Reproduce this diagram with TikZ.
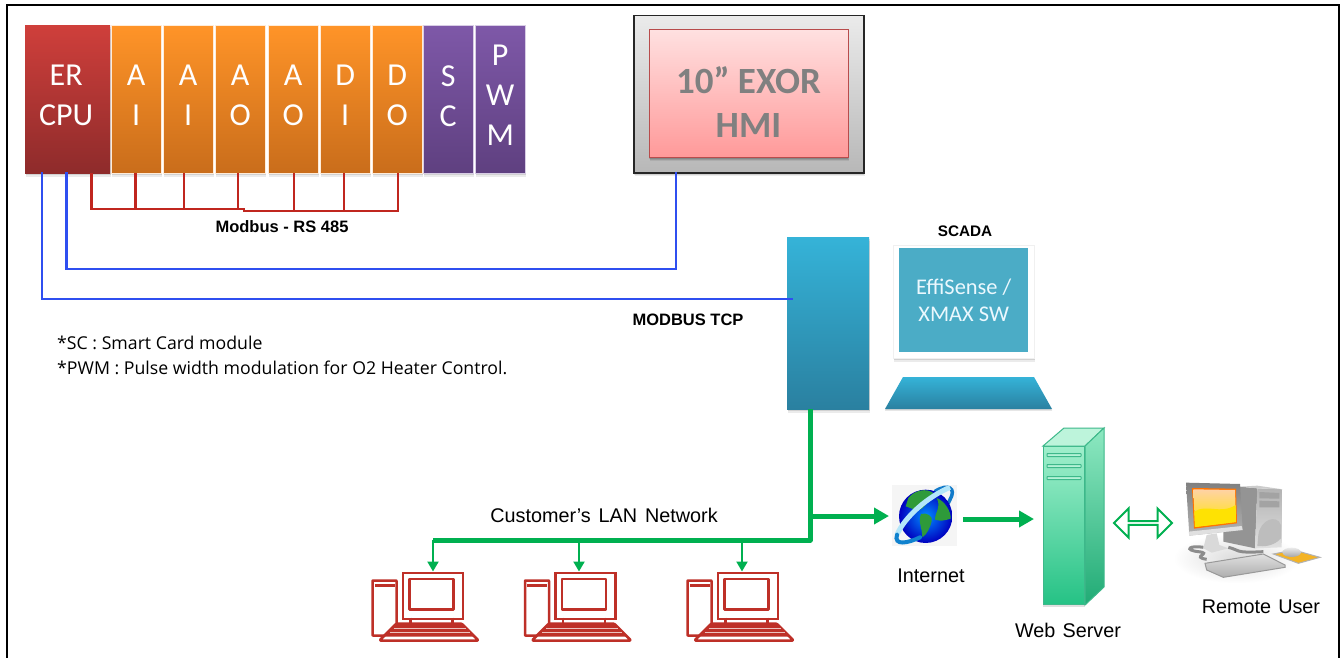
\documentclass[tikz,border=0pt]{standalone}
\usepackage{fontspec}
\setmainfont{Liberation Sans}
\newfontfamily\calib{Carlito}
\newfontfamily\notef{Open Sans}
\usetikzlibrary{arrows.meta,shapes.arrows,shadows,calc}
\definecolor{busgreen}{HTML}{00B050}
\definecolor{redpc}{HTML}{BE3028}
\definecolor{linkblue}{HTML}{2F4FF0}
\definecolor{linkred}{HTML}{C0261F}
\definecolor{scT}{HTML}{35B3D8}
\definecolor{scB}{HTML}{2A80A0}
\definecolor{scI}{HTML}{4BACC6}
\definecolor{svE}{HTML}{3DB88A}
\definecolor{svT}{HTML}{A0EFCC}
\definecolor{svB}{HTML}{25C285}
\definecolor{cpuT}{HTML}{CF3F3B}
\definecolor{cpuB}{HTML}{8E2B2B}
\definecolor{ioT}{HTML}{FF9428}
\definecolor{ioB}{HTML}{C96D1B}
\definecolor{purT}{HTML}{7E58A8}
\definecolor{purB}{HTML}{5F4080}
\definecolor{landgreen}{HTML}{2E9A3A}
\definecolor{padyellow}{HTML}{F4B324}
\colorlet{purmid}{purT}
\newcommand{\px}[1]{\fontsize{#1}{#1}\selectfont}
\newcommand{\lift}{\\[-25pt]\mbox{}}
\tikzset{
  softshadow/.style={
    drop shadow={shadow xshift=0pt,shadow yshift=-1pt,opacity=.13,fill=black},
    drop shadow={shadow xshift=.5pt,shadow yshift=-2pt,opacity=.11,fill=black},
    drop shadow={shadow xshift=1pt,shadow yshift=-3.5pt,opacity=.08,fill=black}},
  modbase/.style={inner sep=0pt,minimum height=148pt,anchor=north west,text=white,align=center,
     font=\calib\px{32},softshadow},
  cpumod/.style={modbase,top color=cpuT,bottom color=cpuB,minimum width=85pt},
  iomod/.style={modbase,top color=ioT,bottom color=ioB,minimum width=50pt,draw=white!85!orange,line width=.4pt},
  purmod/.style={modbase,top color=purT,bottom color=purB,minimum width=50pt,draw=white!70!purmid,line width=.4pt},
  redlink/.style={draw=linkred,line width=2.5pt},
  bluelink/.style={draw=linkblue,line width=2.3pt},
  busline/.style={draw=busgreen,line width=5pt,line join=round},
  droparrow/.style={draw=busgreen,line width=2.2pt,-{Triangle[length=10pt,width=11pt]}},
  mainarrow/.style={draw=busgreen,line width=5pt,-{Triangle[length=15pt,width=16pt]}},
  lab/.style={inner sep=0pt,text=black,font=\px{19.8}},
  boldlab/.style={inner sep=0pt,text=black,font=\bfseries\px{16.5}},
  redline/.style={draw=redpc,line width=2.5pt,line join=round},
  pics/redcomputer/.style={code={
    \draw[redline,fill=white,rounded corners=.5pt] (-29,9) rectangle (-5,64);
    \fill[redpc] (-27,12.5) rectangle (-7,15.5);
    \node[draw=redpc,line width=2.5pt,fill=white,inner sep=0pt,minimum width=60pt,minimum height=46pt,anchor=north west] (-mon) at (0,0) {};
    \draw[redline] (8,7.5) rectangle (52,38);
    \draw[redline] (9,46) -- (9,53) (51,46) -- (51,53);
    \draw[redline,fill=white,rounded corners=1pt] (-4,69) -- (-22,69) -- (-5,52) -- (60,52) -- (77,69) -- cycle;
    \fill[redpc] (-4,52) -- (59.5,52) -- (72,65) -- (-17,65) -- cycle;
    \draw[white!70!redpc,line width=.5pt] (-8,57) -- (64,57) (-12,61) -- (68,61);
  }}
}
\begin{document}
\begin{tikzpicture}[x=1pt,y=-1pt]
\useasboundingbox (0,0) rectangle (1341,658);
\fill[white] (0,0) rectangle (1341,658);
\draw[black,line width=2.4pt] (7,658) -- (7,5) -- (1339,5) -- (1339,658);

% PLC modules
\node[cpumod] (cpu) at (25,25) {ER\kern3pt\\[8pt]CPU\kern3pt\lift};
\node[iomod] (m1) at (111,25) {A\\[8pt]I\lift};
\node[iomod] (m2) at (163,25) {A\\[8pt]I\lift};
\node[iomod] (m3) at (215,25) {A\\[8pt]O\lift};
\node[iomod] (m4) at (268,25) {A\\[8pt]O\lift};
\node[iomod] (m5) at (320,25) {D\\[8pt]I\lift};
\node[iomod] (m6) at (372,25) {D\\[8pt]O\lift};
\node[purmod] (m7) at (423,25) {S\\[8pt]C\lift};
\node[purmod] (m8) at (475,25) {P\\[8pt]W\\[8pt]M\lift};

% Modbus RS485
\coordinate (r0) at (91.5,173);
\draw[redlink] (r0) -- (91.5,209) -- (244,209) -- (244,211) -- (398,211) -- (398,173);
\foreach \xx/\mm in {135.7/m1,184/m2,238/m3,294/m4,344/m5}{
  \draw[redlink] (\mm.south -| \xx,0) -- (\xx,210);
}
\node[boldlab] (modbus) at (282,227) {Modbus - RS 485};

% HMI
\node[draw=black!85,line width=1.5pt,top color=black!8,bottom color=black!28,inner sep=0pt,
  minimum width=230pt,minimum height=157pt,anchor=north west,softshadow] (hmi) at (633,15) {};
\node[draw=red!60!black!70,line width=1pt,top color=red!12,bottom color=red!40,inner sep=0pt,
  minimum width=199pt,minimum height=128pt,anchor=north west,softshadow,text=black!50,align=center,
  font=\calib\bfseries\px{37}] (hmiscreen) at (648.5,29) {\rule{0pt}{44pt}10” EXOR\\[7pt]HMI};

% SCADA
\node[top color=scT,bottom color=scB,inner sep=0pt,minimum width=82pt,minimum height=172pt,anchor=north west,softshadow] (tower) at (787,237) {};
\node[boldlab,font=\bfseries\px{15.3}] (scada) at (965,231) {SCADA};
\node[fill=white,draw=black!6,line width=.6pt,inner sep=0pt,minimum width=141pt,minimum height=113pt,anchor=north west,softshadow] (scmon) at (893,245) {};
\node[fill=scI,inner sep=0pt,minimum width=129pt,minimum height=104pt,anchor=north west,text=white!92!cyan,
  align=center,font=\calib\px{22.4}] (scscreen) at (899,248) {EffiSense /\\[4pt]XMAX SW};
\path[top color=scT,bottom color=scB,drop shadow={shadow xshift=0pt,shadow yshift=-1.5pt,opacity=.15,fill=black}] (903,377) -- (1034,377) -- (1052,409) -- (885,409) -- cycle;

% blue links
\coordinate (cpuA) at (42,172);
\coordinate (cpuB) at (66.5,172);
\coordinate (hmiA) at (675.7,172);
\coordinate (towerA) at (792.7,299);
\draw[bluelink] (cpuB) |- (hmiA |- 0,269) -- (hmiA);
\draw[bluelink] (cpuA) |- (towerA);
\node[boldlab] (mtcp) at (688,320) {MODBUS TCP};

% notes
\node[inner sep=0pt,anchor=west,font=\notef\px{17.7},text=black] (n1) at (57,343) {*SC : Smart Card module};
\node[inner sep=0pt,anchor=west,font=\notef\px{17.7},text=black] (n2) at (57,368) {*PWM : Pulse width modulation for O2 Heater Control.};

% red computers
\pic (p1) at (401.5,571.5) {redcomputer};
\pic (p2) at (554,571.5) {redcomputer};
\pic (p3) at (716.5,571.5) {redcomputer};

% LAN bus
\coordinate (towerB) at (810,409);
\coordinate (busL) at (433,540);
\coordinate (b2) at (579,540);
\coordinate (b3) at (742,540);
\coordinate (branch) at (810,516);
\draw[droparrow] (busL) -- (busL |- p1-mon.north);
\draw[droparrow] (b2) -- (b2 |- p2-mon.north);
\draw[droparrow] (b3) -- (b3 |- p3-mon.north);
\draw[busline] (towerB) |- (busL);
\node[lab] (lan) at (604,515) {Customer’s\hspace{.12em} LAN\hspace{.12em} Network};

% Internet globe
\node[fill=black!4,inner sep=0pt,minimum width=65pt,minimum height=61pt,anchor=north west] (globe) at (892,485) {};
\begin{scope}[shift={(885,478)},x=.3333pt,y=-.3333pt]
  \draw[line width=3.5pt,cyan!60!blue,line cap=round] (150,40) .. controls (190,15) and (215,30) .. (195,65) .. controls (190,75) and (185,85) .. (180,90);
  \shade[inner color=cyan!55!blue,outer color=blue!75!black] (122,115) circle (80);
  \fill[landgreen] (70,60) .. controls (90,35) and (125,30) .. (145,45) .. controls (125,60) and (130,80) .. (115,88) .. controls (100,105) and (80,90) .. (62,85) -- cycle;
  \fill[landgreen] (108,108) .. controls (125,102) and (145,115) .. (140,130) .. controls (135,150) and (125,170) .. (112,178) .. controls (112,150) and (98,130) .. (108,108) -- cycle;
  \fill[landgreen] (155,60) .. controls (180,70) and (198,100) .. (197,122) .. controls (178,128) and (165,130) .. (150,125) .. controls (150,100) and (170,90) .. (155,60) -- cycle;
  \draw[line width=5pt,cyan!30!white] (36,170) .. controls (60,115) and (130,55) .. (195,28);
  \draw[line width=4pt,cyan!65!blue,line cap=round] (36,170) .. controls (25,205) and (70,195) .. (105,178);
\end{scope}
\node[lab] (inetlab) at (931,576) {Internet};
\draw[mainarrow,shorten >=3pt] (branch) -- (globe.west |- branch);
\coordinate (gr) at (963,519);

% Web server
\path[fill=black!35,opacity=.35] (1043,600) rectangle (1085,607);
\node[draw=svE,line width=1pt,top color=svT,bottom color=svB,inner sep=0pt,minimum width=41pt,minimum height=158pt,anchor=north west] (server) at (1043,446) {};
\draw[draw=svE,line width=1pt,fill=svT!70!white] (server.north west) -- (1064,428) -- (1104,428) -- (server.north east) -- cycle;
\path[draw=svE,line width=1pt,top color=svT!85!svB,bottom color=svB!88!black] (server.north east) -- (1104,428) -- (1104,587) -- (server.south east) -- cycle;
\foreach \yy in {455,466,478}{
  \draw[draw=svE,line width=1pt,fill=svT!80!white,rounded corners=.5pt] (1047,\yy-1.5) rectangle (1081,\yy+1.5);
}
\node[lab] (weblab) at (1068,630) {Web\hspace{.08em} Server};
\draw[mainarrow,shorten >=9pt] (gr) -- (server.west |- gr);

% Remote user computer
\node[draw=busgreen,line width=2pt,fill=white,double arrow,inner sep=0pt,minimum width=29pt,minimum height=58pt,
  double arrow head extend=7pt,double arrow head indent=0pt,shape border rotate=0] (dbl) at (1143,523) {};
\begin{scope}[shift={(1170,470)},x=.3333pt,y=-.3333pt]
  \shade[inner color=black!14,outer color=white] (200,265) ellipse [x radius=190,y radius=75];
  % tower
  \fill[black!42] (210,50) -- (262,55) -- (255,235) -- (160,215) -- (160,180) -- cycle;
  \shade[top color=black!30,bottom color=black!12] (262,55) -- (338,58) -- (335,232) -- (255,235) -- cycle;
  \fill[black!20] (210,50) -- (262,47) -- (338,58) -- (262,55) -- cycle;
  \fill[black!36] (268,66) -- (328,69) -- (328,86) -- (268,85) -- cycle;
  \fill[black!36] (268,92) -- (328,94) -- (328,112) -- (268,112) -- cycle;
  \fill[black!26] (265,195) .. controls (270,150) and (320,130) .. (333,165) -- (333,205) .. controls (310,230) and (280,230) .. (262,228) -- cycle;
  % stand
  \fill[black!15] (100,235) -- (110,195) -- (140,190) -- (148,225) -- (175,235) -- (125,248) -- cycle;
  % monitor
  \shade[top color=black!50,bottom color=black!30] (48,38) -- (210,42) -- (218,180) -- (58,197) -- cycle;
  \fill[black!12] (58,197) -- (218,180) -- (215,168) -- (56,185) -- cycle;
  \fill[orange!90!red] (66,54) -- (198,56) -- (201,160) -- (72,176) -- cycle;
  \shade[top color=orange!35!white,bottom color=yellow!80!orange] (70,58) -- (195,60) -- (198,156) -- (75,171) -- cycle;
  \fill[yellow!85!orange] (73,125) .. controls (110,100) and (150,135) .. (197,105) -- (198,156) -- (75,171) -- cycle;
  % cable
  \draw[black!45,line width=3pt] (100,232) .. controls (60,225) and (40,240) .. (85,245) .. controls (130,250) and (60,260) .. (110,268);
  \draw[black!45,line width=3pt] (175,232) .. controls (210,240) and (190,250) .. (280,245);
  % mousepad, mouse
  \path[fill=padyellow,draw=black!30,line width=1pt] (310,252) -- (372,240) -- (450,262) -- (385,280) -- cycle;
  \shade[top color=black!8,bottom color=black!35] (365,247) ellipse [x radius=28,y radius=14];
  % keyboard
  \path[top color=black!12,bottom color=black!32,draw=black!40,line width=1pt] (105,280) -- (280,252) -- (345,285) -- (345,292) -- (160,322) -- (110,300) -- cycle;
\end{scope}
\node[lab] (remlab) at (1261,607) {Remote\hspace{.08em} User};
\end{tikzpicture}
\end{document}
